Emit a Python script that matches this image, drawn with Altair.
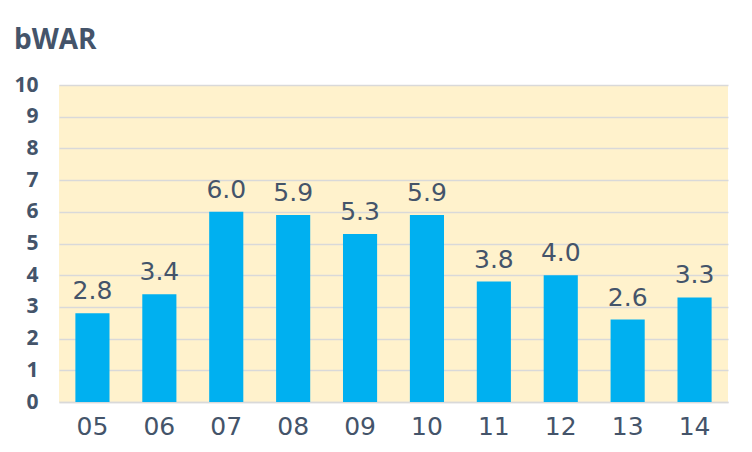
import altair as alt
import pandas as pd

seasons = ["05", "06", "07", "08", "09", "10", "11", "12", "13", "14"]
bwar = [2.8, 3.4, 6.0, 5.9, 5.3, 5.9, 3.8, 4.0, 2.6, 3.3]

df = pd.DataFrame({"season": seasons, "bwar": bwar})

TEXT = "#44546A"

x = alt.X("season:N", sort=seasons, title=None,
          scale=alt.Scale(paddingInner=0.49, paddingOuter=0.245),
          axis=alt.Axis(labelAngle=0, labelFont="DejaVu Sans", labelFontSize=25,
                        labelColor=TEXT, labelPadding=12, ticks=False,
                        domainColor="#D9D9D9", domainWidth=1.5, labelBaseline="top"))
y = alt.Y("bwar:Q", title=None,
          scale=alt.Scale(domain=[0, 10], nice=False),
          axis=alt.Axis(values=list(range(0, 11)), labelOverlap=False, labelFont="Open Sans",
                        labelFontWeight="bold", labelFontSize=21, labelColor=TEXT,
                        labelPadding=21, ticks=False, domain=False,
                        gridColor="#D9D9D9", gridWidth=1.5))

bars = alt.Chart(df).mark_bar(color="#00B0F0").encode(x=x, y=y)
labels = alt.Chart(df).mark_text(font="DejaVu Sans", fontSize=25, color=TEXT,
                                 baseline="alphabetic", dy=-14).encode(
    x=x, y=y,
    text=alt.Text("bwar:Q", format=".1f"))

chart = (bars + labels).properties(
    width=669, height=317,
    title=alt.TitleParams("bWAR", anchor="start", frame="group", font="Open Sans",
                          fontWeight="bold", fontSize=28, color=TEXT, dx=-45, offset=19),
    autosize=alt.AutoSizeParams(type="none"),
    padding={"left": 51, "top": 77, "right": 15, "bottom": 40},
    background="white",
).configure_view(fill="#FFF2CC", stroke=None)

chart.save("out.html", embed_options={"renderer": "svg", "actions": False})
